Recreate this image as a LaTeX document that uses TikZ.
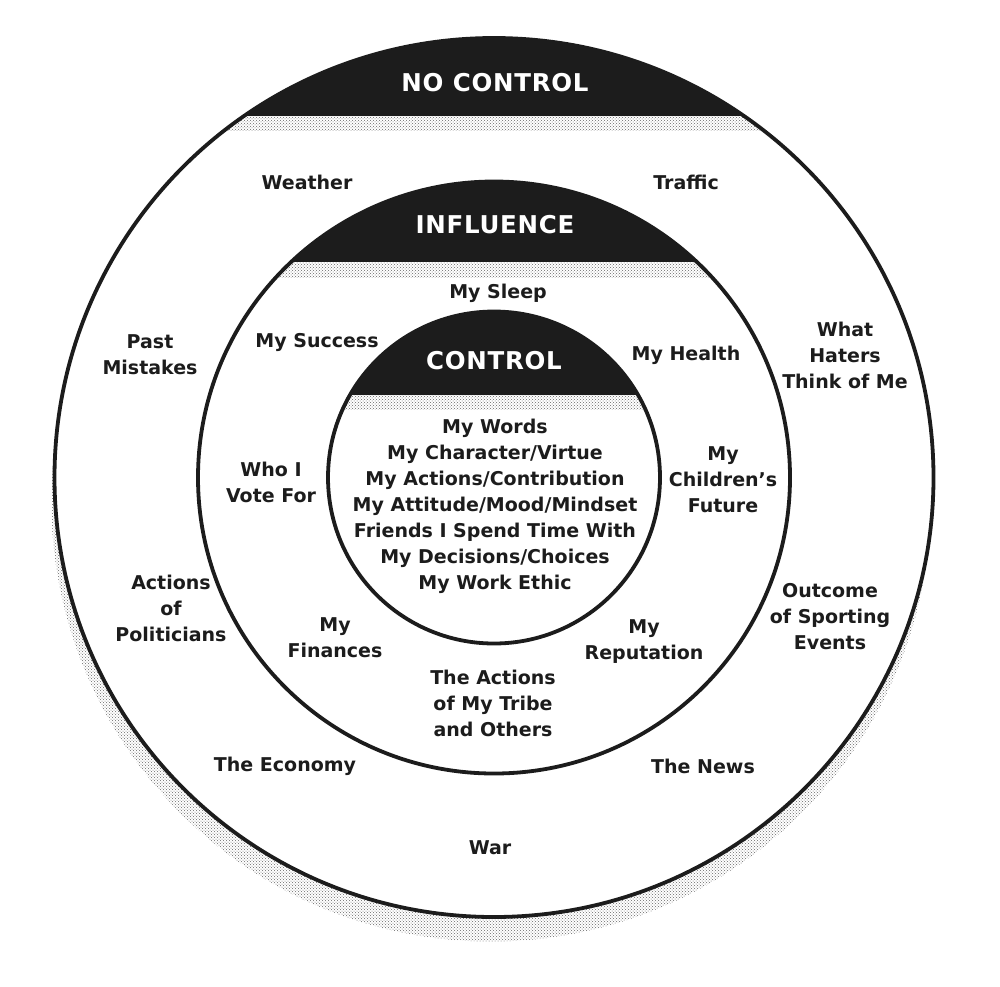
\documentclass[tikz,border=0pt]{standalone}
\usepackage{fontspec}
\setmainfont{DejaVu Sans}
\usetikzlibrary{patterns}
\definecolor{ink}{HTML}{1C1C1C}
\begin{document}
\begin{tikzpicture}[x=1pt,y=1pt,
 lbl/.style={font=\bfseries\fontsize{19}{26}\selectfont, text=ink, align=center, inner sep=0pt},
 hdr/.style={font=\bfseries\fontsize{24.5}{26}\selectfont\addfontfeatures{LetterSpace=3}, text=white, inner sep=0pt},
 ringline/.style={draw=ink, line width=3.8pt},
 dotband/.style={pattern=crosshatch dots, pattern color=black!60}]
\useasboundingbox (0,0) rectangle (1000,-986);
\coordinate (c) at (494,-477.5);
% shadow
\fill[dotband] (491,-502) circle (439.5);
% outer ring
\fill[white] (c) circle (439.5);
\begin{scope}
\clip (c) circle (439.5);
\fill[ink] (0,0) rectangle (1000,-116);
\fill[dotband] (0,-116) rectangle (1000,-130);
\end{scope}
\draw[ringline] (c) circle (439.5);
% influence ring
\fill[white] (c) circle (296);
\begin{scope}
\clip (c) circle (296);
\fill[ink] (0,0) rectangle (1000,-262);
\fill[dotband] (0,-262) rectangle (1000,-277);
\end{scope}
\draw[ringline] (c) circle (296);
% control ring
\fill[white] (c) circle (166);
\begin{scope}
\clip (c) circle (166);
\fill[ink] (0,0) rectangle (1000,-395);
\fill[dotband] (0,-395) rectangle (1000,-409);
\end{scope}
\draw[ringline] (c) circle (166);
% headers
\node[hdr] (hnc) at (495,-83) {NO CONTROL};
\node[hdr] (hinf) at (495,-225) {INFLUENCE};
\node[hdr] (hctl) at (494,-361) {CONTROL};
% no control labels
\node[lbl] (weather) at (307,-182) {Weather};
\node[lbl] (traffic) at (686,-182) {Traffic};
\node[lbl] (past) at (150,-355) {Past\\Mistakes};
\node[lbl] (haters) at (845,-355) {What\\Haters\\Think of Me};
\node[lbl] (politicians) at (171,-608) {Actions\\of\\Politicians};
\node[lbl] (sport) at (830,-617) {Outcome\\of Sporting\\Events};
\node[lbl] (economy) at (285,-766) {The Economy};
\node[lbl] (news) at (703,-766) {The News};
\node[lbl] (war) at (490,-848) {War};
% influence labels
\node[lbl] (sleep) at (498,-293) {My Sleep};
\node[lbl] (success) at (317,-342) {My Success};
\node[lbl] (health) at (686,-355) {My Health};
\node[lbl] (vote) at (271,-482) {Who I\\Vote For};
\node[lbl] (children) at (723,-480) {My\\Children’s\\Future};
\node[lbl] (finances) at (335,-638) {My\\Finances};
\node[lbl] (reputation) at (644,-642) {My\\Reputation};
\node[lbl] (tribe) at (493,-703) {The Actions\\of My Tribe\\and Others};
% control labels
\node[lbl] (ctllist) at (495,-506) {My Words\\My Character/Virtue\\My Actions/Contribution\\My Attitude/Mood/Mindset\\Friends I Spend Time With\\My Decisions/Choices\\My Work Ethic};
\end{tikzpicture}
\end{document}
